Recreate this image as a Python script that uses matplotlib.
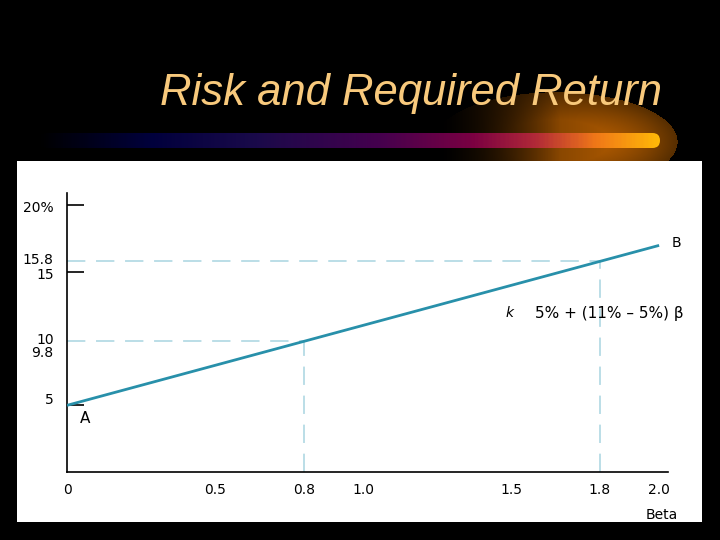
import numpy as np
import matplotlib
matplotlib.use('Agg')
import matplotlib.pyplot as plt
from matplotlib.patches import Rectangle, FancyBboxPatch
from matplotlib.colors import LinearSegmentedColormap

# data
rf = 5.0          # risk-free rate
km = 11.0         # market return
beta_line = [0.0, 2.0]
ret_line = [rf + (km - rf) * b for b in beta_line]
beta_marks = [0.8, 1.8]
ret_marks = [rf + (km - rf) * b for b in beta_marks]   # 9.8, 15.8

x_ticklabels = ['0', '0.5', '0.8', '1.0', '1.5', '1.8', '2.0']
x_tickvals = [0, 0.5, 0.8, 1.0, 1.5, 1.8, 2.0]
x_tickmarks = [0.5, 1.0, 1.5, 2.0]
y_tickmarks = [5, 15, 20]
y_labels = ['20%', '15.8', '15', '10', '9.8', '5']
y_label_pos = [19.8, 15.9, 14.8, 9.9, 8.9, 5.4]

plt.rcParams['font.family'] = ['DejaVu Sans']

fig = plt.figure(figsize=(7.2, 5.4), dpi=100)
fig.patch.set_facecolor('black')

# background (pixel coords)
bg = fig.add_axes([0, 0, 1, 1])
bg.set_xlim(0, 720)
bg.set_ylim(540, 0)
bg.axis('off')
bg.set_facecolor('black')

# orange glow behind the title end
gx = np.linspace(420, 700, 280)
gy = np.linspace(70, 175, 105)
X, Y = np.meshgrid(gx, gy)
r = np.sqrt(((X - 556) / 122) ** 2 + ((Y - 142) / 50) ** 2)
inside = np.clip(1 - r, 0, 1)
level = np.where(r < 1, np.clip(inside * 1.8, 0, 1), 0) * np.clip((X - 470) / 180, 0, 1)
fade = np.clip((X - 440) / 120, 0, 1) ** 1.3
glow = np.zeros(X.shape + (4,))
glow[..., 0] = 0.34 + 0.40 * level
glow[..., 1] = 0.18 + 0.20 * level
glow[..., 2] = 0.0
glow[..., 3] = np.where(r < 1, fade, 0)
bg.imshow(glow, extent=(420, 700, 175, 70), origin='upper', zorder=1, aspect='auto')

# gradient swoosh bar
bar_cmap = LinearSegmentedColormap.from_list('swoosh', [
    (0.00, '#000000'), (0.18, '#00003c'), (0.35, '#1a0a4a'),
    (0.55, '#45004e'), (0.70, '#7a0042'), (0.80, '#b02838'),
    (0.90, '#f07818'), (1.00, '#ffb808')])
grad = np.linspace(0, 1, 400).reshape(1, -1)
im = bg.imshow(grad, extent=(38, 660, 148, 133), cmap=bar_cmap, aspect='auto', zorder=2)
clip = FancyBboxPatch((38, 133), 622, 15, boxstyle='round,pad=0,rounding_size=7.5',
                      transform=bg.transData, facecolor='none', edgecolor='none')
bg.add_patch(clip)
im.set_clip_path(clip)

# title
bg.text(411, 93, 'Risk and Required Return', color='#f8c97c', fontsize=31.4,
        style='italic', family='Liberation Sans', ha='center', va='center', zorder=3)

# white panel
bg.add_patch(Rectangle((17, 161), 685, 361, facecolor='white', edgecolor='none', zorder=4))

# chart axes
ax = fig.add_axes([67 / 720, 68 / 540, 601 / 720, 279 / 540])
ax.set_facecolor('none')
ax.set_xlim(0, 2.03)
ax.set_ylim(0, 20.93)
for s in ['top', 'right']:
    ax.spines[s].set_visible(False)
for s in ['left', 'bottom']:
    ax.spines[s].set_linewidth(1.2)

line_col = '#2890aa'
dash_col = '#a8d4e0'

ax.plot(beta_line, ret_line, color=line_col, lw=2.0, solid_capstyle='butt', zorder=3)
for b, k in zip(beta_marks, ret_marks):
    ax.plot([0, b], [k, k], color=dash_col, lw=1.1, dashes=(12, 7), zorder=2)
    ax.plot([b, b], [0, k], color=dash_col, lw=1.1, dashes=(12, 7), zorder=2)

ax.set_xticks(x_tickvals)
ax.set_xticklabels(x_ticklabels, fontsize=10)
ax.tick_params(axis='x', length=0, pad=8)
ax.set_xticks(x_tickmarks, minor=True)
ax.tick_params(axis='x', which='minor', direction='in', length=12, width=1.2)

ax.set_yticks(y_tickmarks, minor=True)
ax.set_yticks([])
ax.tick_params(axis='y', which='minor', direction='in', length=12, width=1.2)
for lab, pos in zip(y_labels, y_label_pos):
    ax.text(-0.045, pos, lab, ha='right', va='center', fontsize=10)

ax.text(0.06, 4.0, 'A', fontsize=11, ha='center', va='center')
ax.text(2.06, 17.2, 'B', fontsize=10, ha='center', va='center', clip_on=False)
ax.text(2.01, -3.2, 'Beta', fontsize=10, ha='center', va='center', clip_on=False)
ax.text(1.495, 11.9, 'k', fontsize=10, style='italic', ha='center', va='center')
ax.text(1.58, 11.9, '5% + (11% \u2013 5%) \u03b2', fontsize=11, ha='left', va='center',
        clip_on=False)

fig.savefig('out.png', dpi=100, facecolor='black')
